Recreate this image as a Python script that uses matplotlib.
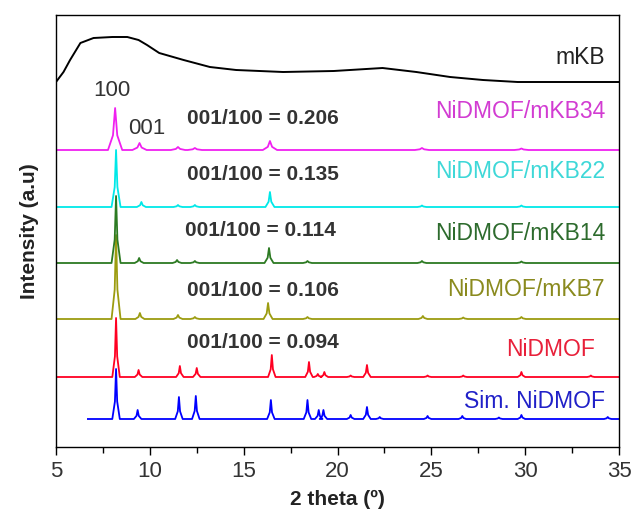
import numpy as np
import matplotlib
matplotlib.use("Agg")
import matplotlib.pyplot as plt
from matplotlib.ticker import MultipleLocator

plt.rcParams["font.family"] = ["Liberation Sans", "DejaVu Sans"]

# peak tables: 2theta position, height above the trace baseline
sim_pos = [8.2, 9.35, 11.55, 12.45, 16.45, 18.4, 19.0, 19.25, 20.7, 21.57, 22.25, 24.8, 26.65, 28.6, 29.8, 34.4]
sim_h = [50, 9, 22, 23, 19, 19, 9, 9, 4, 12, 2, 3, 3, 1.5, 4, 2]

nidmof_pos = [8.2, 9.4, 11.6, 12.5, 16.5, 18.48, 18.95, 19.3, 20.7, 21.57, 24.8, 26.7, 29.8, 33.5]
nidmof_h = [59, 7, 11, 9, 22, 15, 3, 5, 1.5, 12, 1.5, 1.5, 5, 1.5]

mkb7_pos = [8.2, 9.47, 11.5, 12.4, 16.3, 18.4, 24.55, 26.7, 29.8]
mkb7_h = [84, 6, 4, 2, 16, 2, 3, 1.5, 2]

mkb14_pos = [8.2, 9.43, 11.45, 12.4, 16.35, 18.4, 24.5, 29.8]
mkb14_h = [67, 5, 3, 2, 15, 2, 2, 1.5]

mkb22_pos = [8.2, 9.55, 11.5, 12.4, 16.4, 24.5, 29.8]
mkb22_h = [57, 5, 2, 2, 15, 1.5, 1.5]

mkb34_pos = [8.15, 9.45, 11.5, 12.4, 16.4, 24.5, 29.8]
mkb34_h = [42, 7, 3, 2, 9, 2, 1.5]

# bare mKB: broad amorphous hump
mkb_x = [5.0, 5.4, 5.75, 6.3, 7.0, 8.0, 8.8, 9.4, 9.85, 10.5, 11.8, 13.2, 14.6,
         17.1, 19.8, 22.4, 24.2, 26.0, 27.75, 29.6, 31.9, 35.0]
mkb_y = [65, 75, 87, 104, 109, 110, 110, 107, 102, 94, 87, 80, 77,
         75, 76, 79, 75, 70, 67, 65, 65, 65]

names = ["Sim. NiDMOF", "NiDMOF", "NiDMOF/mKB7", "NiDMOF/mKB14", "NiDMOF/mKB22", "NiDMOF/mKB34"]
ratios = [None, "0.094", "0.106", "0.114", "0.135", "0.206"]
offsets = [28, 70, 128, 184, 240, 297]
mkb_offset = 300
half_widths = [0.2, 0.2, 0.24, 0.24, 0.24, 0.38]
starts = [6.7, 5, 5, 5, 5, 5]

line_colors = ["#0000ff", "#ff0022", "#9c9c10", "#2c7a22", "#00e8e8", "#f020f0"]
text_colors = ["#2020c8", "#e8203a", "#8a8a1e", "#2d6b2d", "#3ed8d8", "#d23cd2"]


def peak_line(pos, h, w, x0, x1=35.0):
    xs, ys = [x0], [0.0]
    for p, hh in zip(pos, h):
        xs += [p - w, p - 0.3 * w, p, p + 0.3 * w, p + w]
        ys += [0.0, 0.35 * hh, hh, 0.35 * hh, 0.0]
    xs.append(x1)
    ys.append(0.0)
    return np.array(xs), np.array(ys)


peaks = [(sim_pos, sim_h), (nidmof_pos, nidmof_h), (mkb7_pos, mkb7_h),
         (mkb14_pos, mkb14_h), (mkb22_pos, mkb22_h), (mkb34_pos, mkb34_h)]

fig = plt.figure(figsize=(6.34, 5.12), dpi=100)
ax = fig.add_axes([56 / 634, 65 / 512, 563 / 634, 432 / 512])

for i, (pos, h) in enumerate(peaks):
    x, y = peak_line(pos, h, half_widths[i], starts[i])
    ax.plot(x, y + offsets[i], color=line_colors[i], lw=1.3)
ax.plot(mkb_x, np.array(mkb_y) + mkb_offset, color="black", lw=1.4)

# labels on the right
label_y = [45, 97, 157, 214, 275, 335]
label_x = [34.25, 33.7, 34.25, 34.25, 34.25, 34.25]
for i, name in enumerate(names):
    ax.text(label_x[i], label_y[i], name, color=text_colors[i], fontsize=16.5,
            ha="right", va="center")
ax.text(34.25, 389, "mKB", color="#222222", fontsize=16.5, ha="right", va="center")

ratio_y = [None, 105, 157, 217, 272, 329]
for i, r in enumerate(ratios):
    if r is None:
        continue
    ax.text(12.0 if i != 3 else 11.87, ratio_y[i], f"001/100 = {r}", color="#333333",
            fontsize=15, fontweight="bold", ha="left", va="center")

ax.text(7.98, 357, "100", color="#333333", fontsize=16, ha="center", va="center")
ax.text(9.85, 319, "001", color="#333333", fontsize=16, ha="center", va="center")

ax.set_xlim(5, 35)
ax.set_ylim(0, 432)
ax.xaxis.set_major_locator(MultipleLocator(5))
ax.xaxis.set_minor_locator(MultipleLocator(2.5))
ax.tick_params(axis="x", which="major", direction="out", length=6, width=1,
               labelsize=16, labelcolor="#333333", pad=4)
ax.tick_params(axis="x", which="minor", direction="out", length=4, width=1)
ax.set_yticks([])
for s in ax.spines.values():
    s.set_linewidth(1.0)

ax.set_xlabel("2 theta (º)", fontsize=15, fontweight="bold", color="#222222", labelpad=6)
ax.set_ylabel("Intensity (a.u)", fontsize=15, fontweight="bold", color="#222222", labelpad=12)

fig.savefig("out.png", dpi=100)
